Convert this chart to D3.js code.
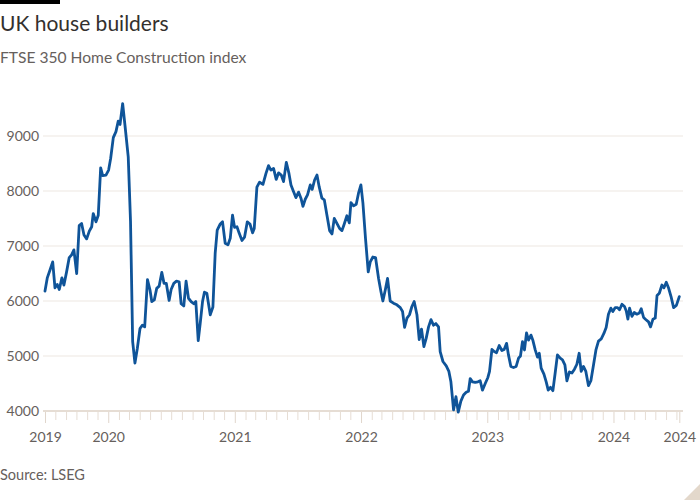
<!DOCTYPE html>
<html>
<head>
<meta charset="utf-8">
<script src="https://cdn.jsdelivr.net/npm/d3@7"></script>
<style>
  html, body { margin: 0; padding: 0; background: #ffffff; }
  svg { display: block; }
  text { font-family: Lato, "Open Sans", sans-serif; }
</style>
</head>
<body>
<svg id="chart" width="700" height="500"></svg>
<script>
// ---- Data ----
const title = "UK house builders";
const subtitle = "FTSE 350 Home Construction index";
const source = "Source: LSEG";

// observation times as decimal years
const times = [
  2019.499, 2019.517, 2019.538, 2019.560, 2019.578, 2019.596, 2019.612, 2019.633, 2019.649, 2019.670,
  2019.691, 2019.710, 2019.728, 2019.750, 2019.770, 2019.789, 2019.808, 2019.829, 2019.850, 2019.869,
  2019.881, 2019.903, 2019.921, 2019.940, 2019.956, 2019.982, 2020.003, 2020.019, 2020.040, 2020.061,
  2020.079, 2020.093, 2020.114, 2020.132, 2020.158, 2020.176, 2020.193, 2020.211, 2020.230, 2020.251,
  2020.269, 2020.288, 2020.310, 2020.330, 2020.344, 2020.364, 2020.383, 2020.402, 2020.423, 2020.441,
  2020.459, 2020.481, 2020.497, 2020.518, 2020.539, 2020.560, 2020.576, 2020.597, 2020.615, 2020.634,
  2020.655, 2020.676, 2020.692, 2020.711, 2020.726, 2020.745, 2020.760, 2020.779, 2020.806, 2020.827,
  2020.845, 2020.861, 2020.885, 2020.903, 2020.924, 2020.946, 2020.964, 2020.982, 2020.998, 2021.017,
  2021.035, 2021.057, 2021.077, 2021.099, 2021.120, 2021.141, 2021.154, 2021.175, 2021.196, 2021.223,
  2021.247, 2021.267, 2021.286, 2021.307, 2021.328, 2021.347, 2021.368, 2021.386, 2021.408, 2021.429,
  2021.445, 2021.465, 2021.484, 2021.505, 2021.524, 2021.540, 2021.558, 2021.576, 2021.598, 2021.613,
  2021.632, 2021.651, 2021.669, 2021.690, 2021.709, 2021.730, 2021.751, 2021.770, 2021.788, 2021.809,
  2021.830, 2021.849, 2021.867, 2021.888, 2021.907, 2021.920, 2021.941, 2021.962, 2021.980, 2021.999,
  2022.015, 2022.036, 2022.057, 2022.073, 2022.094, 2022.115, 2022.139, 2022.158, 2022.173, 2022.192,
  2022.210, 2022.231, 2022.257, 2022.284, 2022.311, 2022.329, 2022.345, 2022.364, 2022.384, 2022.403,
  2022.421, 2022.443, 2022.461, 2022.479, 2022.498, 2022.516, 2022.535, 2022.554, 2022.574, 2022.593,
  2022.614, 2022.627, 2022.649, 2022.675, 2022.696, 2022.712, 2022.733, 2022.752, 2022.770, 2022.791,
  2022.812, 2022.833, 2022.851, 2022.865, 2022.883, 2022.905, 2022.926, 2022.944, 2022.962, 2022.984,
  2023.005, 2023.018, 2023.037, 2023.055, 2023.073, 2023.095, 2023.116, 2023.134, 2023.153, 2023.168,
  2023.187, 2023.208, 2023.229, 2023.248, 2023.263, 2023.279, 2023.295, 2023.311, 2023.327, 2023.346,
  2023.362, 2023.380, 2023.398, 2023.412, 2023.427, 2023.449, 2023.467, 2023.483, 2023.501, 2023.520,
  2023.538, 2023.556, 2023.578, 2023.596, 2023.615, 2023.631, 2023.651, 2023.671, 2023.691, 2023.710,
  2023.728, 2023.744, 2023.762, 2023.781, 2023.802, 2023.821, 2023.842, 2023.861, 2023.881, 2023.903,
  2023.924, 2023.942, 2023.960, 2023.979, 2023.995, 2024.014, 2024.032, 2024.048, 2024.067, 2024.087,
  2024.101, 2024.114, 2024.127, 2024.146, 2024.164, 2024.185, 2024.204, 2024.219, 2024.238, 2024.257,
  2024.277, 2024.293, 2024.312, 2024.330, 2024.344, 2024.362, 2024.383, 2024.399, 2024.417, 2024.436,
  2024.457, 2024.475, 2024.497, 2024.520
];

const values = [
  6180, 6420, 6560, 6710, 6240, 6300, 6210, 6420, 6290, 6530,
  6790, 6840, 6930, 6500, 7370, 7410, 7200, 7130, 7270, 7350,
  7590, 7440, 7560, 8420, 8280, 8290, 8380, 8590, 8970, 9080,
  9270, 9210, 9590, 9200, 8620, 7450, 5260, 4870, 5140, 5500,
  5560, 5530, 6390, 6200, 5990, 6020, 6230, 6270, 6520, 6320,
  6320, 6010, 6210, 6320, 6360, 6350, 5950, 5910, 6360, 6050,
  5990, 5950, 5990, 5280, 5580, 5990, 6160, 6140, 5750, 5890,
  6870, 7290, 7400, 7440, 7050, 7020, 7140, 7560, 7340, 7350,
  7230, 7100, 7160, 7440, 7400, 7240, 7320, 8070, 8160, 8120,
  8320, 8460, 8380, 8410, 8210, 8330, 8290, 8170, 8520, 8320,
  8110, 7990, 7880, 7980, 7870, 7720, 7850, 7930, 8110, 8030,
  8200, 8290, 8070, 7870, 7840, 7560, 7280, 7220, 7500, 7410,
  7320, 7280, 7400, 7550, 7420, 7790, 7730, 7760, 7960, 8110,
  7780, 7120, 6530, 6710, 6800, 6790, 6410, 6170, 6000, 6200,
  6410, 6000, 5960, 5930, 5880, 5810, 5520, 5690, 5750, 5900,
  5990, 5750, 5300, 5490, 5170, 5320, 5530, 5660, 5560, 5590,
  5530, 5080, 4900, 4820, 4720, 4530, 4020, 4260, 3980, 4180,
  4290, 4340, 4360, 4590, 4530, 4520, 4530, 4550, 4380, 4500,
  4610, 4720, 5120, 5080, 5060, 5190, 5100, 5120, 5230, 5020,
  4810, 4790, 4810, 4960, 5000, 5260, 5110, 5420, 5290, 5380,
  5280, 5110, 4980, 5050, 4780, 4670, 4530, 4380, 4430, 4370,
  4690, 5020, 4960, 4930, 4840, 4550, 4710, 4690, 4760, 4850,
  5050, 4720, 4810, 4720, 4460, 4550, 4840, 5110, 5270, 5310,
  5410, 5520, 5760, 5870, 5810, 5880, 5880, 5840, 5940, 5900,
  5820, 5670, 5870, 5720, 5790, 5760, 5780, 5860, 5700, 5660,
  5620, 5530, 5670, 5690, 6100, 6140, 6290, 6240, 6340, 6230,
  6060, 5880, 5920, 6080
];

const yTicks = [4000, 5000, 6000, 7000, 8000, 9000];
const yearTicks = [2020, 2021, 2022, 2023, 2024];

// ---- Helpers ----
function decToDate(t) {
  const y = Math.floor(t);
  const start = new Date(y, 0, 1), end = new Date(y + 1, 0, 1);
  return new Date(+start + (t - y) * (end - start));
}
const data = times.map((t, i) => ({ date: decToDate(t), value: values[i] }));

// ---- Layout ----
const svg = d3.select("#chart");
const plotLeft = 43, plotRight = 683;
const x = d3.scaleTime()
  .domain([data[0].date, data[data.length - 1].date])
  .range([45, 679.3]);
const y = d3.scaleLinear().domain([4000, 10000]).range([411, 81]);

const textCol = "#66605c";

// top black bar
svg.append("rect").attr("x", 0).attr("y", 0).attr("width", 60).attr("height", 4).attr("fill", "#000");

svg.append("text").attr("x", 0).attr("y", 31).attr("font-size", 21).attr("fill", "#33302e").text(title);
svg.append("text").attr("x", 0).attr("y", 63).attr("font-size", 15.6).attr("fill", textCol).text(subtitle);

// gridlines
svg.append("g").selectAll("line").data(yTicks.filter(d => d > 4000)).join("line")
  .attr("x1", plotLeft).attr("x2", plotRight)
  .attr("y1", d => y(d)).attr("y2", d => y(d))
  .attr("stroke", "#ede7e1").attr("stroke-width", 1);

// y labels
svg.append("g").selectAll("text").data(yTicks).join("text")
  .attr("x", 39).attr("y", d => y(d)).attr("dy", "0.35em")
  .attr("text-anchor", "end").attr("font-size", 14).attr("fill", textCol)
  .text(d => d3.format("d")(d));

// x axis: minor monthly ticks
const start = data[0].date, end = data[data.length - 1].date;
const months = d3.timeMonth.range(d3.timeMonth.ceil(start), end).filter(d => d.getMonth() !== 0);
const majors = [start].concat(yearTicks.map(yr => new Date(yr, 0, 1))).concat([end]);

const axisMinor = d3.axisBottom(x).tickValues(months).tickSize(9).tickFormat("");
const gMinor = svg.append("g").attr("transform", "translate(0,411)").call(axisMinor);
gMinor.select(".domain").remove();
gMinor.selectAll(".tick line").attr("stroke", "#e6ddd4").attr("stroke-width", 1);

const axisMajor = d3.axisBottom(x).tickValues(majors).tickSize(12).tickPadding(9)
  .tickFormat(d3.timeFormat("%Y"));
const gMajor = svg.append("g").attr("transform", "translate(0,411)").call(axisMajor);
gMajor.select(".domain").remove();
gMajor.selectAll(".tick line").attr("stroke", "#e0d6cc").attr("stroke-width", 1);
gMajor.selectAll(".tick text").attr("font-size", 14).attr("fill", textCol)
  .attr("font-family", "Lato, 'Open Sans', sans-serif");

// baseline
svg.append("line").attr("x1", plotLeft).attr("x2", plotRight)
  .attr("y1", y(4000)).attr("y2", y(4000))
  .attr("stroke", "#e6ddd4").attr("stroke-width", 2);

// line
const line = d3.line().x(d => x(d.date)).y(d => y(d.value));
svg.append("path").datum(data)
  .attr("d", line).attr("fill", "none")
  .attr("stroke", "#0f5499").attr("stroke-width", 2.8)
  .attr("stroke-linejoin", "round").attr("stroke-linecap", "round");

// source
svg.append("text").attr("x", 0).attr("y", 480).attr("font-size", 14.5).attr("fill", textCol).text(source);

// corner fold
svg.append("path").attr("d", "M684,500 L700,484 L700,500 Z").attr("fill", "#e3d8cb");
</script>
</body>
</html>
